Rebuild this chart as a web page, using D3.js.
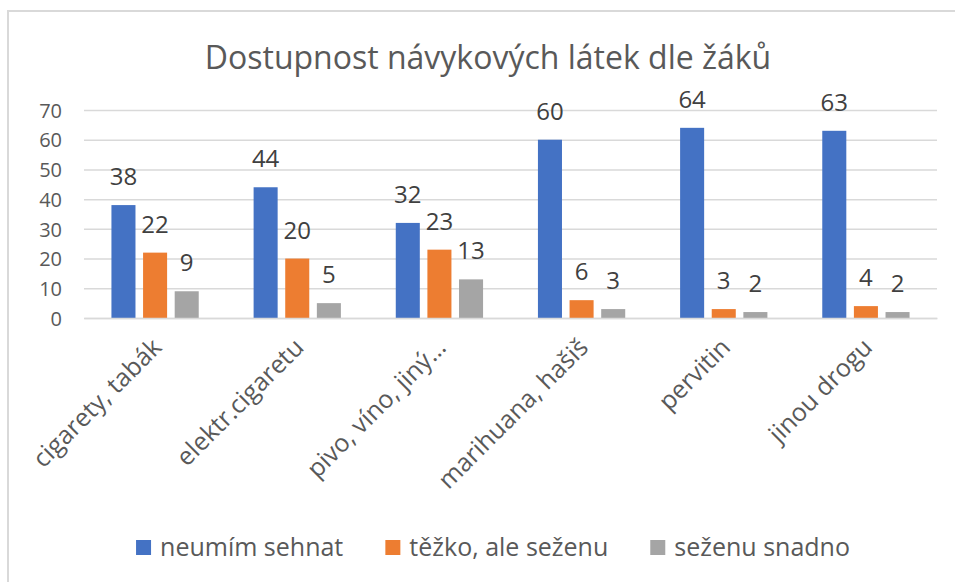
<!DOCTYPE html>
<html>
<head>
<meta charset="utf-8">
<script src="https://cdn.jsdelivr.net/npm/d3@7"></script>
<style>
  html, body { margin: 0; padding: 0; background: #fff; }
  svg { display: block; font-family: "Open Sans", sans-serif; }
</style>
</head>
<body>
<svg id="chart" width="955" height="582"></svg>
<script>
const title = "Dostupnost návykových látek dle žáků";
const categories = ["cigarety, tabák", "elektr.cigaretu", "pivo, víno, jiný…", "marihuana, hašiš", "pervitin", "jinou drogu"];
const seriesNames = ["neumím sehnat", "těžko, ale seženu", "seženu snadno"];
const neumimSehnat = [38, 44, 32, 60, 64, 63];
const tezkoAleSezenu = [22, 20, 23, 6, 3, 4];
const sezenuSnadno = [9, 5, 13, 3, 2, 2];
const yTicks = [0, 10, 20, 30, 40, 50, 60, 70];
const colors = ["#4472C4", "#ED7D31", "#A5A5A5"];

const seriesValues = [neumimSehnat, tezkoAleSezenu, sezenuSnadno];
const rows = categories.map((c, i) => ({
  cat: c,
  vals: seriesNames.map((s, j) => ({ s, v: seriesValues[j][i], j }))
}));

const FONT = "'Open Sans', sans-serif";
const svg = d3.select("#chart");
const W = 955, H = 582;
const plot = { left: 84, right: 937, top: 110, bottom: 318 };

svg.append("rect").attr("x", 8).attr("y", 11).attr("width", W + 20).attr("height", H + 20)
  .attr("fill", "none").attr("stroke", "#D9D9D9").attr("stroke-width", 2);

svg.append("text").attr("x", 488).attr("y", 69).attr("text-anchor", "middle")
  .attr("font-size", 32).attr("fill", "#595959").text(title);

const y = d3.scaleLinear().domain([0, 70]).range([plot.bottom, plot.top]);
const x0 = d3.scaleBand().domain(categories).range([plot.left, plot.right]).padding(0);
const bw = x0.bandwidth();
const x1 = d3.scaleBand().domain(seriesNames).range([bw * 0.193, bw * 0.807]).paddingInner(0.24);

const yAxis = d3.axisLeft(y).tickValues(yTicks).tickSize(-(plot.right - plot.left)).tickPadding(22);
const ga = svg.append("g").attr("transform", `translate(${plot.left},0)`).call(yAxis);
ga.select(".domain").remove();
ga.selectAll(".tick line").attr("stroke", "#D9D9D9").attr("stroke-width", 1.5);
ga.selectAll(".tick text").attr("font-size", 20).attr("fill", "#595959")
  .attr("font-family", FONT).attr("dy", "0.36em");

const groups = svg.append("g").selectAll("g").data(rows).join("g")
  .attr("transform", d => `translate(${x0(d.cat)},0)`);
groups.selectAll("rect").data(d => d.vals).join("rect")
  .attr("x", d => x1(d.s)).attr("width", x1.bandwidth())
  .attr("y", d => y(d.v)).attr("height", d => y(0) - y(d.v))
  .attr("fill", d => colors[d.j]);
groups.selectAll("text").data(d => d.vals).join("text")
  .attr("x", d => x1(d.s) + x1.bandwidth() / 2).attr("y", d => y(d.v) - 20)
  .attr("text-anchor", "middle").attr("font-size", 24).attr("fill", "#404040")
  .text(d => d.v);

const xAxis = d3.axisBottom(x0).tickSize(0).tickPadding(0);
const gx = svg.append("g").attr("transform", `translate(0,${plot.bottom})`).call(xAxis);
gx.select(".domain").attr("stroke", "#D9D9D9").attr("stroke-width", 1.5);
gx.selectAll(".tick text")
  .attr("font-size", 25).attr("fill", "#595959").attr("font-family", FONT)
  .attr("text-anchor", "end").attr("dy", 0).attr("y", 0)
  .attr("transform", "translate(8,31) rotate(-45)");

const legend = svg.append("g");
const items = legend.selectAll("g").data(seriesNames).join("g");
items.append("rect").attr("width", 15).attr("height", 15).attr("y", -7)
  .attr("fill", (d, i) => colors[i]);
items.append("text").attr("x", 24).attr("y", 0).attr("dy", "0.35em")
  .attr("font-size", 25).attr("fill", "#595959").text(d => d);
let cx = 0;
const widths = [];
items.each(function () { widths.push(this.getBBox().width); });
items.attr("transform", (d, i) => { const t = `translate(${cx},547)`; cx += widths[i] + 42; return t; });
const total = cx - 42;
legend.attr("transform", `translate(${493 - total / 2},0)`);
</script>
</body>
</html>
